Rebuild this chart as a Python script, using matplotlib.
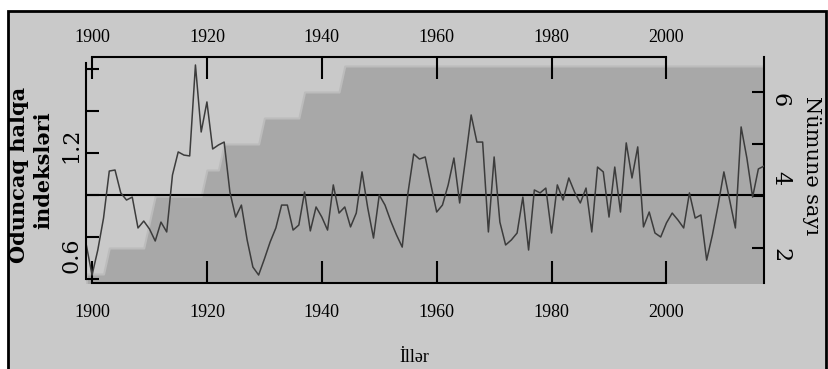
import numpy as np
import matplotlib
matplotlib.use("Agg")
import matplotlib.pyplot as plt
from matplotlib.patches import Rectangle
from matplotlib.transforms import blended_transform_factory

# --- data ---
years = np.arange(1899, 2018)
ring_index = [
    0.762, 0.619, 0.738, 0.890, 1.114, 1.119, 1.010, 0.976, 0.990, 0.843,   # 1899-1908
    0.876, 0.838, 0.781, 0.871, 0.824, 1.095, 1.205, 1.190, 1.186, 1.619,   # 1909-1918
    1.300, 1.443, 1.219, 1.238, 1.252, 1.014, 0.895, 0.952, 0.786, 0.657,   # 1919-1928
    0.619, 0.695, 0.776, 0.843, 0.952, 0.952, 0.833, 0.857, 1.014, 0.829,   # 1929-1938
    0.943, 0.895, 0.833, 1.048, 0.914, 0.943, 0.848, 0.914, 1.110, 0.938,   # 1939-1948
    0.795, 1.000, 0.952, 0.876, 0.810, 0.752, 1.010, 1.195, 1.171, 1.181,   # 1949-1958
    1.048, 0.919, 0.952, 1.048, 1.176, 0.962, 1.167, 1.381, 1.252, 1.252,   # 1959-1968
    0.824, 1.181, 0.871, 0.762, 0.786, 0.819, 0.990, 0.738, 1.024, 1.010,   # 1969-1978
    1.033, 0.819, 1.048, 0.976, 1.081, 1.014, 0.962, 1.033, 0.824, 1.133,   # 1979-1988
    1.110, 0.895, 1.133, 0.919, 1.248, 1.081, 1.229, 0.848, 0.919, 0.819,   # 1989-1998
    0.800, 0.867, 0.914, 0.881, 0.843, 1.010, 0.890, 0.905, 0.690, 0.810,   # 1999-2008
    0.952, 1.110, 0.976, 0.843, 1.324, 1.176, 0.990, 1.124, 1.138,          # 2009-2017
]
# sample depth as (value, number of years) runs, 1899 onward
depth_runs = [(1, 4), (2, 7), (3, 1), (4, 9), (5, 3), (6, 7), (7, 7), (8, 7), (9, 74)]
sample_depth = np.concatenate([[v] * n for v, n in depth_runs])

xticks = [1900, 1920, 1940, 1960, 1980, 2000]
index_ticks = [0.6, 0.8, 1.0, 1.2, 1.4, 1.6]
index_labels = ["0.6", "1.2"]
index_label_pos = [0.714, 1.238]
depth_ticks = [2, 4, 6, 8]
depth_labels = ["2", "4", "6"]
depth_label_pos = [1.73, 4.69, 7.69]

BG = "#c9c9c9"
W, H = 829, 369
LW = 1.5
XFONT = dict(family="Liberation Serif", size=13)

fig = plt.figure(figsize=(W / 100, H / 100), dpi=100, facecolor="white")
fig.add_artist(Rectangle((8 / W, -0.05), 818 / W, 1.05 - 11 / H,
                         transform=fig.transFigure, facecolor=BG,
                         edgecolor="black", lw=2.0, zorder=-10))

ax = fig.add_axes([86.3 / W, (H - 283) / H, (764.1 - 86.3) / W, 226 / H])
ax2 = ax.twinx()
ax3 = ax.twiny()
ax.set_zorder(ax2.get_zorder() + 1)
ax3.set_zorder(ax.get_zorder() + 1)
for a in (ax, ax2, ax3):
    a.patch.set_visible(False)

# sample depth polygon
ax2.fill_between(years, 0, sample_depth, facecolor="#a8a8a8",
                 edgecolor="#bcbcbc", lw=1.5)
ax2.set_ylim(0.654, 9.346)

# chronology
ax.axhline(1.0, color="black", lw=LW)
ax.plot(years, ring_index, color="#3c3c3c", lw=1.1)
ax.set_xlim(1899, 2017)
ax.set_ylim(0.581, 1.657)
ax3.set_xlim(ax.get_xlim())

# spines
for s in ["right", "top"]:
    ax.spines[s].set_visible(False)
for s in ["left", "bottom", "top"]:
    ax2.spines[s].set_visible(False)
for s in ["left", "bottom", "right"]:
    ax3.spines[s].set_visible(False)
ax.spines["left"].set_linewidth(LW)
ax.spines["bottom"].set_linewidth(LW)
ax2.spines["right"].set_linewidth(LW)
ax3.spines["top"].set_linewidth(LW)
ax.spines["bottom"].set_bounds(1900, 2000)
ax3.spines["top"].set_bounds(1900, 2000)
ax.spines["left"].set_bounds(0.6, 1.63)

# bottom axis
ax.set_xticks(xticks)
ax.set_xticklabels([str(t) for t in xticks], fontdict=XFONT)
ax.tick_params(axis="x", direction="in", length=15.5, width=LW, pad=15)

# top axis
ax3.set_xticks(xticks)
ax3.set_xticklabels([str(t) for t in xticks], fontdict=XFONT)
ax3.tick_params(axis="x", direction="in", length=15.5, width=LW, pad=8)

# left axis
ax.set_yticks(index_ticks)
ax.set_yticklabels([])
ax.tick_params(axis="y", direction="in", length=9.5, width=LW)

# right axis
ax2.set_yticks(depth_ticks)
ax2.set_yticklabels([])
ax2.tick_params(axis="y", direction="in", length=8.5, width=LW)

lab_font = dict(family="DejaVu Serif", size=16)
tr_l = blended_transform_factory(fig.transFigure, ax.transData)
for s, v in zip(index_labels, index_label_pos):
    ax.text(71.7 / W, v, s, transform=tr_l, rotation=90, ha="center",
            va="center", **lab_font)
tr_r = blended_transform_factory(fig.transFigure, ax2.transData)
for s, v in zip(depth_labels, depth_label_pos):
    ax2.text(780 / W, v, s, transform=tr_r, rotation=270, ha="center",
             va="center", **lab_font)

# axis titles
fig.text(19 / W, 1 - 175 / H, "Oduncaq halqa", rotation=90, ha="center",
         va="center", family="DejaVu Serif", weight="bold", size=15)
fig.text(43 / W, 1 - 170 / H, "indeksləri", rotation=90, ha="center",
         va="center", family="DejaVu Serif", weight="bold", size=15)
fig.text(812 / W, 1 - 166 / H, "Nümunə sayı", rotation=270, ha="center",
         va="center", family="DejaVu Serif", size=15)
fig.text(414 / W, 1 - 357 / H, "İllər", ha="center", va="center",
         family="Liberation Serif", size=13)

fig.savefig("out.png", dpi=100, facecolor="white")
